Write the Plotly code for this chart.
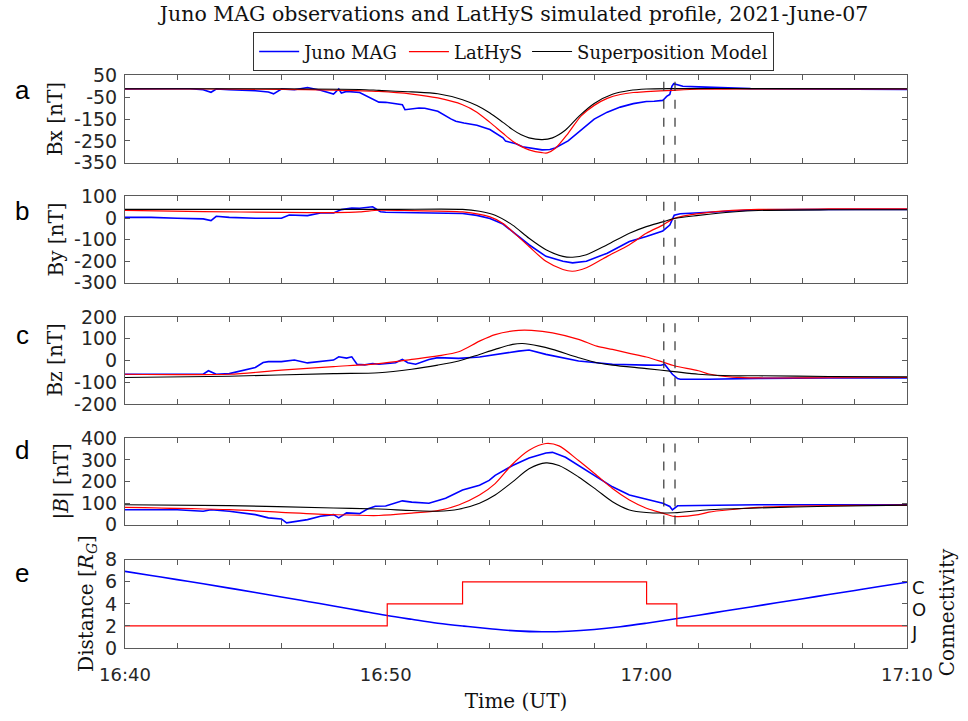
import plotly.graph_objects as go

# ---------------- DATA (minutes after 16:40 UT) ----------------
tick_minutes = list(range(0, 31, 2))
tick_labels = ['16:40' if m == 0 else '16:50' if m == 10 else '17:00' if m == 20 else '17:10' if m == 30 else ' ' for m in tick_minutes]
boundary_times = [20.67, 21.1]

# Panel a: Bx
bx_mag_t = [0, 0.5, 1, 1.5, 2, 2.5, 3, 3.3, 3.5, 4, 4.5, 5, 5.5, 5.7, 6, 6.5, 7, 7.5, 8, 8.2, 8.3, 8.5, 9, 9.3, 9.5, 9.74, 10,
            10.64, 10.74, 11, 11.28, 11.5, 12, 12.5, 12.69, 13, 13.33, 13.5, 14, 14.5, 14.6, 15, 15.25, 15.5, 16, 16.3, 16.5,
            17.0, 17.5, 18, 18.5, 19, 19.5, 20, 20.3, 20.63, 20.67, 20.78, 20.9, 20.98, 21.05, 21.1, 21.4, 22, 23, 24, 26, 28, 30]
bx_mag = [-12, -11, -12, -10, -11, -11, -15, -27, -12, -15, -17, -20, -26, -34, -12, -15, -5, -18, -35, -12, -30, -23, -28, -46, -58, -72, -73,
          -84, -107, -104, -99, -100, -114, -149, -160, -168, -175, -178, -198, -236, -251, -263, -277, -282, -291, -289, -282,
          -250, -200, -150, -118, -95, -79, -69, -68, -64, -60, -46, -37, 0, 12, 10, 1, -2, -6, -10, -12, -13, -14]
bx_lat_t = [0, 3, 6, 8, 9.74, 11, 12, 12.95, 13.5, 14, 14.5, 14.87, 15.2, 15.5, 16, 16.2, 16.5, 17.0, 17.5, 18, 18.5, 19, 19.5, 20, 21, 22, 24, 30]
bx_lat = [-12, -12, -14, -17, -23, -35, -53, -84, -118, -165, -215, -251, -275, -291, -304, -305, -285, -215, -135, -87, -55, -37, -28, -24, -18, -13, -11, -12]
bx_sup_t = [0, 6, 9, 9.74, 11, 12, 12.95, 13.5, 14, 14.5, 14.87, 15.2, 15.5, 16, 16.4, 16.9, 17.43, 18, 18.7, 19.35, 20, 21, 24, 30]
bx_sup = [-11, -11, -14, -18, -25, -34, -61, -88, -122, -165, -198, -222, -236, -244, -236, -200, -135, -78, -36, -19, -12, -10, -10, -11]

# Panel b: By
by_mag_t = [0, 1, 2, 3, 3.3, 3.5, 4, 5, 6, 6.3, 7, 7.5, 8, 8.3, 8.7, 9, 9.5, 9.8, 10, 11, 12, 12.95, 13.5, 14, 14.5, 14.87, 15.5,
            16.15, 16.8, 17.17, 17.7, 18.5, 19.35, 20, 20.63, 20.9, 21.07, 21.3, 22.4, 23.7, 24.3, 26, 28, 30]
by_mag = [3, 3, -1, -4, -12, 8, 3, -1, -1, 14, 11, 23, 23, 39, 46, 45, 52, 29, 27, 25, 23, 21, 12, -2, -28, -63, -124,
          -178, -201, -208, -201, -163, -109, -86, -60, -33, 13, 20, 28, 35, 38, 40, 40, 40]
by_lat_t = [0, 3, 6, 8, 9, 9.74, 11, 12.95, 14, 14.5, 14.87, 15.5, 16.15, 16.8, 17.17, 17.7, 18.5, 19.35, 20, 20.63, 21.07, 22, 23.3, 24.3, 27, 30]
by_lat = [35, 30, 26, 25, 28, 36, 34, 28, 5, -25, -63, -132, -201, -239, -247, -231, -178, -124, -71, -33, -2, 20, 35, 40, 42, 42]
by_sup_t = [0, 10, 12.95, 13.6, 14.2, 14.87, 15.5, 16.15, 16.8, 17.17, 17.7, 18.5, 19.35, 20, 20.63, 21.07, 22, 23.3, 24.3, 27, 30]
by_sup = [40, 40, 40, 31, 13, -33, -94, -147, -178, -182, -170, -124, -71, -40, -18, -2, 12, 28, 35, 38, 38]

# Panel c: Bz
bz_mag_t = [0, 1, 2, 3, 3.2, 3.5, 4, 4.5, 5, 5.3, 5.5, 6, 6.5, 7, 7.5, 8, 8.2, 8.5, 8.7, 8.9, 9.2, 9.5, 9.74, 10.38, 10.64, 10.85,
            11.15, 11.66, 12, 12.8, 13.6, 14.2, 15.1, 15.5, 16.15, 17.4, 18.1, 18.7, 20, 20.56, 20.7, 20.9, 21.0, 21.2, 21.3, 22.4, 24.3, 27, 30]
bz_mag = [-63, -63, -66, -63, -47, -63, -60, -47, -32, -9, -5, -5, 2, -11, -5, 2, 17, 11, 17, -17, -20, -14, -17, -10, 5, -10,
          -17, 5, 13, 10, 16, 28, 43, 48, 28, -2, -10, -17, -21, -22, -17, -48, -63, -83, -86, -86, -82, -80, -80]
bz_lat_t = [0, 4, 6, 8, 9.74, 11, 12, 12.8, 13.6, 14.2, 15.1, 15.6, 16.4, 17.4, 18.1, 18.7, 19.35, 20, 20.63, 21.07, 22, 22.4, 23.3, 24.3, 27, 30]
bz_lat = [-63, -63, -44, -28, -14, 5, 21, 40, 89, 119, 138, 138, 127, 97, 66, 51, 33, 16, -7, -24, -47, -62, -76, -80, -79, -78]
bz_sup_t = [0, 4, 8, 9.74, 11, 12, 12.8, 13.6, 14.2, 14.87, 15.25, 15.9, 16.4, 17.4, 18.1, 18.7, 20, 21.07, 22, 23.3, 24.3, 27, 30]
bz_sup = [-78, -72, -60, -56, -40, -21, -2, 28, 51, 74, 78, 66, 51, 13, -10, -21, -37, -51, -63, -70, -70, -73, -75]

# Panel d: |B|
bt_mag_t = [0, 2, 3, 3.3, 4, 5, 5.5, 6, 6.2, 6.6, 7, 7.5, 8, 8.2, 8.5, 9, 9.3, 9.6, 10, 10.64, 11, 11.66, 12.3, 12.95, 13.6, 13.97,
            14.2, 14.87, 15.5, 16.15, 16.4, 16.9, 17.4, 18.1, 18.7, 19.35, 20, 20.63, 20.9, 21.0, 21.2, 22.4, 24.3, 27, 30]
bt_mag = [69, 69, 62, 69, 62, 46, 31, 26, 8, 15, 23, 39, 46, 31, 54, 51, 72, 85, 86, 110, 104, 99, 122, 160, 182, 205,
          228, 274, 309, 332, 335, 312, 274, 221, 175, 137, 117, 99, 84, 68, 87, 89, 92, 92, 92]
bt_lat_t = [0, 4, 6, 8, 9.74, 11, 12, 12.8, 13.6, 14.2, 14.87, 15.5, 16.15, 16.65, 17.4, 18.1, 18.7, 19.35, 20, 20.63, 21.07, 22, 22.4, 23.3, 24.3, 27, 30]
bt_lat = [80, 69, 57, 46, 42, 53, 65, 91, 137, 190, 281, 345, 376, 365, 297, 228, 167, 114, 76, 53, 38, 46, 58, 70, 80, 88, 90]
bt_sup_t = [0, 4, 8, 9.74, 11, 12, 12.8, 13.6, 14.2, 14.87, 15.5, 16.15, 16.65, 17.4, 18.1, 18.7, 19.35, 20, 21.07, 22.4, 24.3, 27, 30]
bt_sup = [92, 88, 77, 72, 65, 62, 71, 99, 137, 198, 259, 286, 274, 221, 160, 106, 68, 56, 55, 69, 77, 85, 90]

# Panel e: distance and connectivity
dist_t = list(range(0, 31))
distance = [6.95, 6.58, 6.2, 5.82, 5.43, 5.03, 4.63, 4.22, 3.81, 3.39, 2.97, 2.6, 2.25, 1.98, 1.75, 1.55, 1.47, 1.52, 1.68, 1.93,
            2.25, 2.6, 2.97, 3.35, 3.72, 4.1, 4.47, 4.85, 5.22, 5.6, 5.96]
conn_t = [0, 10.06, 12.95, 20.01, 21.17, 30]
conn = [2, 4, 6, 4, 2, 2]
conn_labels = ['J', 'O', 'C']
conn_label_pos = [1.4, 3.45, 5.5]

panel_letters = ['a', 'b', 'c', 'd', 'e']
y_titles = ['Bx [nT]', 'By [nT]', 'Bz [nT]', '|<i>B</i>| [nT]', 'Distance [<i>R</i><sub><i>G</i></sub>]']
y_ranges = [[-350, 50], [-300, 100], [-200, 200], [0, 400], [0, 8]]
y_ticks = [[-350, -250, -150, -50, 50], [-300, -200, -100, 0, 100], [-200, -100, 0, 100, 200],
           [0, 100, 200, 300, 400], [0, 2, 4, 6, 8]]

# ---------------- FIGURE ----------------
W, H = 968, 721
ML, MR, MT, MB = 125, 61, 75, 68
ph = H - MT - MB
pw = W - ML - MR
panel_px = [(75.5, 163.5), (197.5, 284.5), (319, 407), (441.5, 528.5), (564, 653)]
domains = [[(H - MB - b) / ph, (H - MB - t) / ph] for t, b in panel_px]

BLUE, RED, BLACK = '#0000ff', '#ff0000', '#000000'
SERIF = 'DejaVu Serif'
SANS = 'DejaVu Sans'
AX = '#5a5a5a'
TXT = '#262626'

fig = go.Figure()
series = [
    (bx_mag_t, bx_mag, bx_lat_t, bx_lat, bx_sup_t, bx_sup),
    (by_mag_t, by_mag, by_lat_t, by_lat, by_sup_t, by_sup),
    (bz_mag_t, bz_mag, bz_lat_t, bz_lat, bz_sup_t, bz_sup),
    (bt_mag_t, bt_mag, bt_lat_t, bt_lat, bt_sup_t, bt_sup),
]
for i, (mt, mv, lt, lv, st, sv) in enumerate(series):
    xa = 'x' if i == 0 else f'x{i+1}'
    ya = 'y' if i == 0 else f'y{i+1}'
    fig.add_trace(go.Scatter(x=mt, y=mv, xaxis=xa, yaxis=ya, mode='lines', name='Juno MAG',
                             line=dict(color=BLUE, width=1.6), showlegend=(i == 0), legendrank=1))
    fig.add_trace(go.Scatter(x=lt, y=lv, xaxis=xa, yaxis=ya, mode='lines', name='LatHyS',
                             line=dict(color=RED, width=1.2, shape='spline', smoothing=0.8), showlegend=(i == 0), legendrank=2))
    fig.add_trace(go.Scatter(x=st, y=sv, xaxis=xa, yaxis=ya, mode='lines', name='Superposition Model',
                             line=dict(color=BLACK, width=1.1, shape='spline', smoothing=0.8), showlegend=(i == 0), legendrank=3))

fig.add_trace(go.Scatter(x=dist_t, y=distance, xaxis='x5', yaxis='y5', mode='lines',
                         line=dict(color=BLUE, width=1.6, shape='spline'), showlegend=False))
fig.add_trace(go.Scatter(x=conn_t, y=conn, xaxis='x5', yaxis='y6', mode='lines',
                         line=dict(color=RED, width=1.2, shape='hv'), showlegend=False))

layout = dict(
    width=W, height=H, autosize=False,
    margin=dict(l=ML, r=MR, t=MT, b=MB),
    paper_bgcolor='white', plot_bgcolor='white',
    showlegend=True,
    title=dict(text='Juno MAG observations and LatHyS simulated profile, 2021-June-07',
               x=0.531, xanchor='center', y=1 - 14 / H, yanchor='middle',
               font=dict(family=SERIF, size=20.5, color='#111111')),
    legend=dict(orientation='h', x=0.497, xanchor='center', y=(H - MB - 32) / ph, yanchor='top',
                bordercolor='#333333', borderwidth=1, bgcolor='white',
                font=dict(family=SERIF, size=18, color='#111111'), traceorder='normal',
                itemwidth=40),
)

for i in range(5):
    xk = 'xaxis' if i == 0 else f'xaxis{i+1}'
    yk = 'yaxis' if i == 0 else f'yaxis{i+1}'
    ya = 'y' if i == 0 else f'y{i+1}'
    xa = 'x' if i == 0 else f'x{i+1}'
    layout[xk] = dict(domain=[0, 1], anchor=ya, range=[0, 30], tickmode='array', tickvals=tick_minutes,
                      ticktext=[t if t.strip() else '' for t in tick_labels],
                      showticklabels=(i == 4),
                      ticks='inside', ticklen=5, tickcolor=AX, showline=True, linecolor=AX, linewidth=1,
                      mirror='ticks', showgrid=False, zeroline=False,
                      tickfont=dict(family=SANS, size=18, color=TXT), ticklabelstandoff=10)
    if i > 0:
        layout[xk]['matches'] = 'x'
    layout[yk] = dict(domain=domains[i], anchor=xa, range=y_ranges[i], tickmode='array', tickvals=y_ticks[i],
                      ticktext=[str(v) if v >= 0 else '-' + str(-v) for v in y_ticks[i]],
                      ticks='inside', ticklen=5, tickcolor=AX, showline=True, linecolor=AX, linewidth=1,
                      mirror='ticks', showgrid=False, zeroline=False,
                      tickfont=dict(family=SANS, size=19, color=TXT), ticklabelstandoff=3)

layout['xaxis5']['title'] = dict(text='Time (UT)', font=dict(family=SERIF, size=20, color='#111111'), standoff=10)
layout['yaxis6'] = dict(overlaying='y5', anchor='x5', side='right', range=[0, 8], tickmode='array',
                        tickvals=conn_label_pos, ticktext=conn_labels, ticks='', showline=False,
                        showgrid=False, zeroline=False, tickfont=dict(family=SANS, size=18, color='#111111'),
                        ticklabelstandoff=4)

annotations = []
ytitle_x = [55, 56, 55, 61, 87]
letter_y = [90, 212, 337, 453, 577]
for i in range(5):
    t, b = panel_px[i]
    annotations.append(dict(text=y_titles[i], xref='paper', yref='paper', x=(ytitle_x[i] - ML) / pw,
                            y=(H - MB - (t + b) / 2) / ph, xanchor='center', yanchor='middle', textangle=-90,
                            showarrow=False, font=dict(family=SERIF, size=20, color='#111111')))
    annotations.append(dict(text=panel_letters[i], xref='paper', yref='paper', x=(22 - ML) / pw,
                            y=(H - MB - letter_y[i]) / ph, xanchor='center', yanchor='middle',
                            showarrow=False, font=dict(family='Liberation Sans', size=26, color='#000000')))
annotations.append(dict(text='Connectivity', xref='paper', yref='paper', x=(947 - ML) / pw,
                        y=(H - MB - 617) / ph, xanchor='center', yanchor='middle', textangle=-90,
                        showarrow=False, font=dict(family=SERIF, size=20, color='#111111')))
layout['annotations'] = annotations

shapes = []
for i in range(4):
    xa = 'x' if i == 0 else f'x{i+1}'
    ya = 'y' if i == 0 else f'y{i+1}'
    for bt in boundary_times:
        shapes.append(dict(type='line', xref=xa, yref=f'{ya} domain', x0=bt, x1=bt, y0=0, y1=1,
                           line=dict(color='#333333', width=1.2, dash='dash')))
layout['shapes'] = shapes

fig.update_layout(layout)
fig.write_html('out.html', config={'displayModeBar': False},
               post_script="document.body.style.margin='0';document.body.style.padding='0';")
